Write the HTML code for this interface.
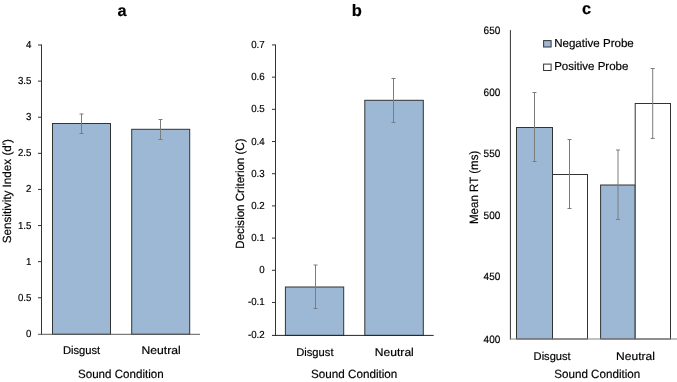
<!DOCTYPE html>
<html><head><meta charset="utf-8"><title>Figure</title>
<style>
html,body{margin:0;padding:0;background:#fff;}
body{width:677px;height:382px;overflow:hidden;}
svg{display:block;will-change:transform;}
text{font-family:"Liberation Sans",sans-serif;fill:#000;stroke:#000;stroke-width:0.18px;text-rendering:geometricPrecision;}
</style></head><body>
<svg width="677" height="382" viewBox="0 0 677 382">
<rect x="0" y="0" width="677" height="382" fill="#ffffff"/>
<rect x="52.5" y="123.5" width="58.00" height="210.80" fill="#9db8d4" stroke="#333" stroke-width="1"/>
<rect x="131.7" y="129.3" width="58.00" height="205.00" fill="#9db8d4" stroke="#333" stroke-width="1"/>
<line x1="81.5" y1="114.0" x2="81.5" y2="133.5" stroke="#7c7c7c" stroke-width="1"/>
<line x1="79.5" y1="114.0" x2="83.5" y2="114.0" stroke="#7c7c7c" stroke-width="1"/>
<line x1="79.5" y1="133.5" x2="83.5" y2="133.5" stroke="#7c7c7c" stroke-width="1"/>
<line x1="160.5" y1="119.5" x2="160.5" y2="139.5" stroke="#7c7c7c" stroke-width="1"/>
<line x1="158.5" y1="119.5" x2="162.5" y2="119.5" stroke="#7c7c7c" stroke-width="1"/>
<line x1="158.5" y1="139.5" x2="162.5" y2="139.5" stroke="#7c7c7c" stroke-width="1"/>
<line x1="41.5" y1="44.5" x2="41.5" y2="334.8" stroke="#333" stroke-width="1"/>
<line x1="38" y1="334.3" x2="200" y2="334.3" stroke="#5a5a5a" stroke-width="1"/>
<line x1="38" y1="45.0" x2="41.5" y2="45.0" stroke="#333" stroke-width="1"/>
<text x="31.45" y="48.0" font-size="10.2" text-anchor="end" textLength="5.39" lengthAdjust="spacingAndGlyphs">4</text>
<line x1="38" y1="81.11" x2="41.5" y2="81.11" stroke="#333" stroke-width="1"/>
<text x="31.45" y="84.11" font-size="10.2" text-anchor="end" textLength="13.47" lengthAdjust="spacingAndGlyphs">3.5</text>
<line x1="38" y1="117.22" x2="41.5" y2="117.22" stroke="#333" stroke-width="1"/>
<text x="31.45" y="120.22" font-size="10.2" text-anchor="end" textLength="5.39" lengthAdjust="spacingAndGlyphs">3</text>
<line x1="38" y1="153.34" x2="41.5" y2="153.34" stroke="#333" stroke-width="1"/>
<text x="31.45" y="156.34" font-size="10.2" text-anchor="end" textLength="13.47" lengthAdjust="spacingAndGlyphs">2.5</text>
<line x1="38" y1="189.45" x2="41.5" y2="189.45" stroke="#333" stroke-width="1"/>
<text x="31.45" y="192.45" font-size="10.2" text-anchor="end" textLength="5.39" lengthAdjust="spacingAndGlyphs">2</text>
<line x1="38" y1="225.56" x2="41.5" y2="225.56" stroke="#333" stroke-width="1"/>
<text x="31.45" y="228.56" font-size="10.2" text-anchor="end" textLength="13.47" lengthAdjust="spacingAndGlyphs">1.5</text>
<line x1="38" y1="261.67" x2="41.5" y2="261.67" stroke="#333" stroke-width="1"/>
<text x="31.45" y="264.67" font-size="10.2" text-anchor="end" textLength="5.39" lengthAdjust="spacingAndGlyphs">1</text>
<line x1="38" y1="297.79" x2="41.5" y2="297.79" stroke="#333" stroke-width="1"/>
<text x="31.45" y="300.79" font-size="10.2" text-anchor="end" textLength="13.47" lengthAdjust="spacingAndGlyphs">0.5</text>
<text x="31.45" y="336.9" font-size="10.2" text-anchor="end" textLength="5.39" lengthAdjust="spacingAndGlyphs">0</text>
<text x="62.9" y="354.45" font-size="11.3" textLength="37.3" lengthAdjust="spacingAndGlyphs">Disgust</text>
<text x="141.5" y="354.45" font-size="11.3" textLength="39.2" lengthAdjust="spacingAndGlyphs">Neutral</text>
<text x="78.0" y="377.8" font-size="11.9" textLength="85.7" lengthAdjust="spacingAndGlyphs">Sound Condition</text>
<text transform="translate(10.5,243.3) rotate(-90)" font-size="11.9" textLength="104.3" lengthAdjust="spacingAndGlyphs">Sensitivity Index (d')</text>
<text x="122.1" y="15.6" font-size="16.3" text-anchor="middle" font-weight="bold" stroke="none">a</text>
<rect x="285.4" y="287.0" width="58.30" height="48.40" fill="#9db8d4" stroke="#333" stroke-width="1"/>
<rect x="364.8" y="100.3" width="58.50" height="235.10" fill="#9db8d4" stroke="#333" stroke-width="1"/>
<line x1="315.5" y1="265.0" x2="315.5" y2="308.5" stroke="#7c7c7c" stroke-width="1"/>
<line x1="313.5" y1="265.0" x2="317.5" y2="265.0" stroke="#7c7c7c" stroke-width="1"/>
<line x1="313.5" y1="308.5" x2="317.5" y2="308.5" stroke="#7c7c7c" stroke-width="1"/>
<line x1="393.5" y1="78.5" x2="393.5" y2="122.5" stroke="#7c7c7c" stroke-width="1"/>
<line x1="391.5" y1="78.5" x2="395.5" y2="78.5" stroke="#7c7c7c" stroke-width="1"/>
<line x1="391.5" y1="122.5" x2="395.5" y2="122.5" stroke="#7c7c7c" stroke-width="1"/>
<line x1="275.5" y1="44.5" x2="275.5" y2="335.9" stroke="#333" stroke-width="1"/>
<line x1="272" y1="335.4" x2="433.7" y2="335.4" stroke="#262626" stroke-width="1"/>
<line x1="272" y1="44.95" x2="275.5" y2="44.95" stroke="#333" stroke-width="1"/>
<text x="264.75" y="47.95" font-size="10.2" text-anchor="end" textLength="13.54" lengthAdjust="spacingAndGlyphs">0.7</text>
<line x1="272" y1="77.14" x2="275.5" y2="77.14" stroke="#333" stroke-width="1"/>
<text x="264.75" y="80.14" font-size="10.2" text-anchor="end" textLength="13.54" lengthAdjust="spacingAndGlyphs">0.6</text>
<line x1="272" y1="109.33" x2="275.5" y2="109.33" stroke="#333" stroke-width="1"/>
<text x="264.75" y="112.33" font-size="10.2" text-anchor="end" textLength="13.54" lengthAdjust="spacingAndGlyphs">0.5</text>
<line x1="272" y1="141.52" x2="275.5" y2="141.52" stroke="#333" stroke-width="1"/>
<text x="264.75" y="144.52" font-size="10.2" text-anchor="end" textLength="13.54" lengthAdjust="spacingAndGlyphs">0.4</text>
<line x1="272" y1="173.71" x2="275.5" y2="173.71" stroke="#333" stroke-width="1"/>
<text x="264.75" y="176.71" font-size="10.2" text-anchor="end" textLength="13.54" lengthAdjust="spacingAndGlyphs">0.3</text>
<line x1="272" y1="205.9" x2="275.5" y2="205.9" stroke="#333" stroke-width="1"/>
<text x="264.75" y="208.9" font-size="10.2" text-anchor="end" textLength="13.54" lengthAdjust="spacingAndGlyphs">0.2</text>
<line x1="272" y1="238.09" x2="275.5" y2="238.09" stroke="#333" stroke-width="1"/>
<text x="264.75" y="241.09" font-size="10.2" text-anchor="end" textLength="13.54" lengthAdjust="spacingAndGlyphs">0.1</text>
<line x1="272" y1="270.28" x2="275.5" y2="270.28" stroke="#333" stroke-width="1"/>
<text x="264.75" y="273.28" font-size="10.2" text-anchor="end" textLength="5.42" lengthAdjust="spacingAndGlyphs">0</text>
<line x1="272" y1="302.47" x2="275.5" y2="302.47" stroke="#333" stroke-width="1"/>
<text x="264.75" y="305.47" font-size="10.2" text-anchor="end" textLength="16.78" lengthAdjust="spacingAndGlyphs">-0.1</text>
<text x="264.75" y="338.4" font-size="10.2" text-anchor="end" textLength="16.78" lengthAdjust="spacingAndGlyphs">-0.2</text>
<text x="296.2" y="355.7" font-size="11.3" textLength="37.3" lengthAdjust="spacingAndGlyphs">Disgust</text>
<text x="374.8" y="355.7" font-size="11.3" textLength="39.0" lengthAdjust="spacingAndGlyphs">Neutral</text>
<text x="311.0" y="377.7" font-size="11.9" textLength="86.3" lengthAdjust="spacingAndGlyphs">Sound Condition</text>
<text transform="translate(243.5,248.7) rotate(-90)" font-size="11.9" textLength="110.2" lengthAdjust="spacingAndGlyphs">Decision Criterion (C)</text>
<text x="356.9" y="15.55" font-size="16.5" text-anchor="middle" font-weight="bold" stroke="none">b</text>
<rect x="516.5" y="127.5" width="36.00" height="211.50" fill="#9db8d4" stroke="#333" stroke-width="1"/>
<rect x="552.5" y="174.5" width="35.00" height="164.50" fill="#fff" stroke="#333" stroke-width="1"/>
<rect x="600.6" y="185.0" width="34.60" height="154.00" fill="#9db8d4" stroke="#333" stroke-width="1"/>
<rect x="635.2" y="103.5" width="35.30" height="235.50" fill="#fff" stroke="#333" stroke-width="1"/>
<line x1="534.5" y1="92.5" x2="534.5" y2="161.5" stroke="#7c7c7c" stroke-width="1"/>
<line x1="532.5" y1="92.5" x2="536.5" y2="92.5" stroke="#7c7c7c" stroke-width="1"/>
<line x1="532.5" y1="161.5" x2="536.5" y2="161.5" stroke="#7c7c7c" stroke-width="1"/>
<line x1="569.5" y1="139.5" x2="569.5" y2="208.5" stroke="#7c7c7c" stroke-width="1"/>
<line x1="567.5" y1="139.5" x2="571.5" y2="139.5" stroke="#7c7c7c" stroke-width="1"/>
<line x1="567.5" y1="208.5" x2="571.5" y2="208.5" stroke="#7c7c7c" stroke-width="1"/>
<line x1="618.0" y1="150.0" x2="618.0" y2="219.5" stroke="#7c7c7c" stroke-width="1"/>
<line x1="616.0" y1="150.0" x2="620.0" y2="150.0" stroke="#7c7c7c" stroke-width="1"/>
<line x1="616.0" y1="219.5" x2="620.0" y2="219.5" stroke="#7c7c7c" stroke-width="1"/>
<line x1="652.7" y1="68.5" x2="652.7" y2="138.4" stroke="#7c7c7c" stroke-width="1"/>
<line x1="650.7" y1="68.5" x2="654.7" y2="68.5" stroke="#7c7c7c" stroke-width="1"/>
<line x1="650.7" y1="138.4" x2="654.7" y2="138.4" stroke="#7c7c7c" stroke-width="1"/>
<line x1="510.4" y1="30.1" x2="510.4" y2="339.5" stroke="#333" stroke-width="1"/>
<line x1="509.9" y1="339.0" x2="677" y2="339.0" stroke="#858585" stroke-width="1"/>
<text x="483.6" y="33.6" font-size="10.6" textLength="16.7" lengthAdjust="spacingAndGlyphs">650</text>
<text x="483.6" y="96.2" font-size="10.6" textLength="16.7" lengthAdjust="spacingAndGlyphs">600</text>
<text x="483.6" y="157.4" font-size="10.6" textLength="16.7" lengthAdjust="spacingAndGlyphs">550</text>
<text x="483.6" y="218.5" font-size="10.6" textLength="16.7" lengthAdjust="spacingAndGlyphs">500</text>
<text x="483.6" y="280.2" font-size="10.6" textLength="16.7" lengthAdjust="spacingAndGlyphs">450</text>
<text x="483.6" y="342.5" font-size="10.6" textLength="16.7" lengthAdjust="spacingAndGlyphs">400</text>
<text x="533.6" y="359.5" font-size="11.3" textLength="37.1" lengthAdjust="spacingAndGlyphs">Disgust</text>
<text x="616.1" y="359.5" font-size="11.3" textLength="38.8" lengthAdjust="spacingAndGlyphs">Neutral</text>
<text x="554.3" y="377.7" font-size="11.9" textLength="85.9" lengthAdjust="spacingAndGlyphs">Sound Condition</text>
<text transform="translate(477.8,224.0) rotate(-90)" font-size="12.0" textLength="73.3" lengthAdjust="spacingAndGlyphs">Mean RT (ms)</text>
<text x="586.6" y="14.0" font-size="16.4" text-anchor="middle" font-weight="bold" stroke="none">c</text>
<rect x="543.6" y="40.6" width="7.5" height="6.4" fill="#9db8d4" stroke="#333" stroke-width="1"/>
<rect x="543.6" y="64.1" width="7.5" height="6.4" fill="#fff" stroke="#333" stroke-width="1"/>
<text x="554.2" y="46.7" font-size="11.6" textLength="79.6" lengthAdjust="spacingAndGlyphs">Negative Probe</text>
<text x="554.2" y="70.4" font-size="11.6" textLength="74.2" lengthAdjust="spacingAndGlyphs">Positive Probe</text>
</svg>
</body></html>
